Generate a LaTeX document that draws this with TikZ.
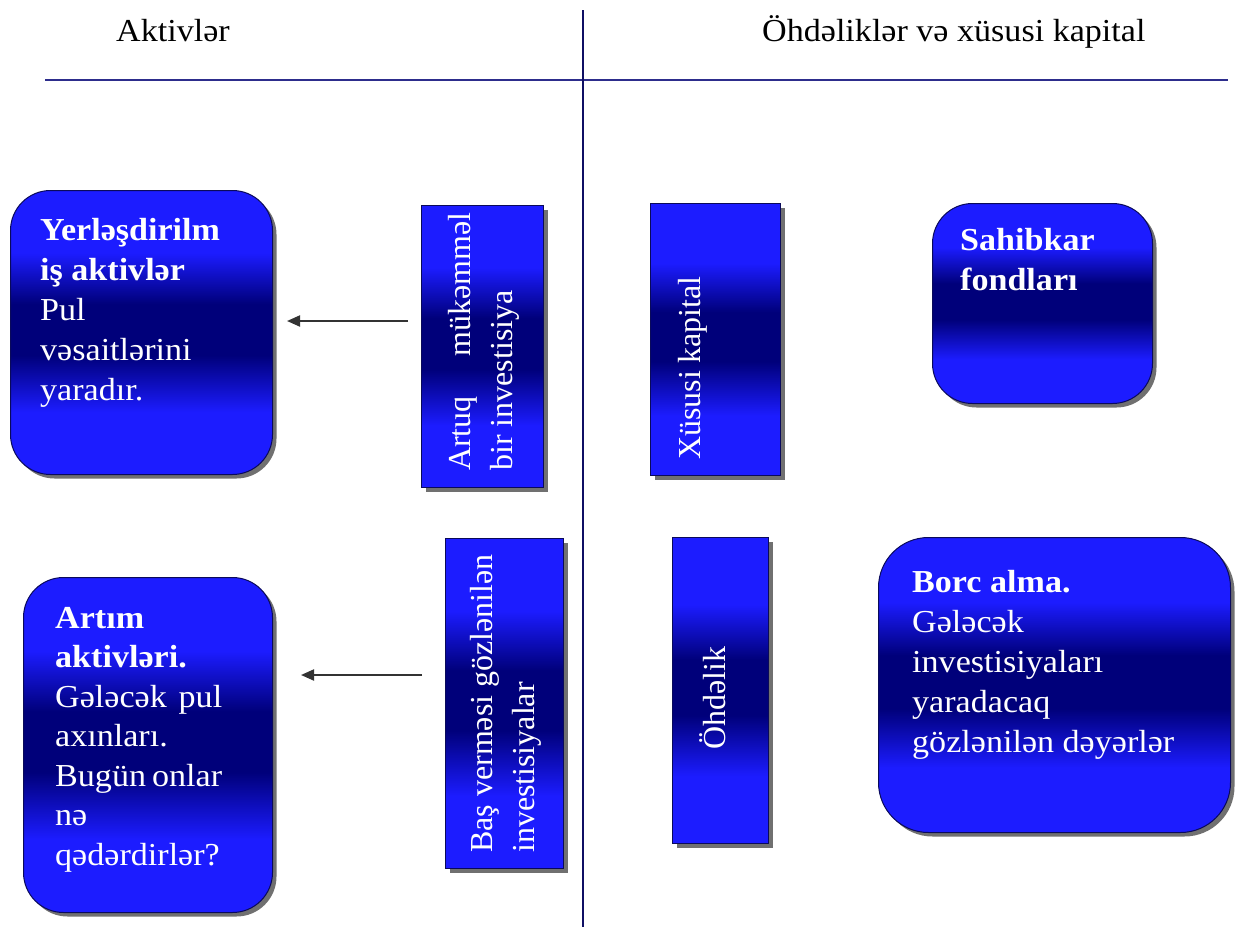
\documentclass[tikz,border=0pt]{standalone}
\usepackage{fontspec}
\setmainfont{Liberation Serif}[FakeStretch=1.065]
\newfontfamily\uprightfont{Liberation Serif}
\usetikzlibrary{shadows,arrows.meta}

\definecolor{bandlight}{RGB}{28,28,255}
\definecolor{banddark}{RGB}{0,0,122}
\definecolor{rulenavy}{RGB}{45,45,140}
\definecolor{axisnavy}{RGB}{15,15,100}
\definecolor{edgenavy}{RGB}{10,10,90}

% bright blue at top and bottom, dark navy band across the middle
\pgfdeclareverticalshading{blueband}{100bp}{%
  color(0bp)=(bandlight); color(36bp)=(bandlight);
  color(46bp)=(banddark); color(55bp)=(banddark);
  color(64bp)=(bandlight); color(100bp)=(bandlight)}

\tikzset{
  panel/.style={draw=edgenavy, line width=1pt, shade, shading=blueband,
    drop shadow={shadow xshift=4pt, shadow yshift=-4pt, fill=black!75, opacity=0.75},
    inner sep=0pt, anchor=north west},
  roundpanel/.style={panel, rounded corners=40pt},
  txt/.style={text=white, inner sep=0pt, anchor=base west,
    font=\fontsize{32}{40}\selectfont},
  vtxt/.style={txt, rotate=90, font=\uprightfont\fontsize{32}{42}\selectfont},
  heading/.style={text=black, inner sep=0pt, anchor=base west,
    font=\fontsize{32}{40}\selectfont},
  arr/.style={draw=black!80, line width=2pt,
    -{Triangle[length=13pt,width=11pt]}},
}

\begin{document}
\begin{tikzpicture}[x=1pt,y=1pt]
\useasboundingbox (0,0) rectangle (1235,-927);

% column headings and dividing rules
\node[heading] (hl) at (116,-41) {Aktivlər};
\node[heading] (hr) at (762,-41) {Öhdəliklər və xüsusi kapital};
\draw[rulenavy, line width=2.5pt] (45,-80) -- (1228,-80);
\draw[axisnavy, line width=2.5pt] (583,-10) -- (583,-927);

% boxes
\node[roundpanel, minimum width=262pt, minimum height=284pt] (a1) at (10,-190) {};
\node[panel, minimum width=122pt, minimum height=282pt] (v1) at (421,-205) {};
\node[panel, minimum width=130pt, minimum height=272pt] (v2) at (650,-203) {};
\node[roundpanel, minimum width=220pt, minimum height=200pt] (r1) at (932,-203) {};
\node[roundpanel, minimum width=249pt, minimum height=335pt] (a2) at (23,-577) {};
\node[panel, minimum width=118pt, minimum height=330pt] (v3) at (445,-538) {};
\node[panel, minimum width=96pt, minimum height=306pt] (v4) at (672,-537) {};
\node[roundpanel, rounded corners=50pt, minimum width=352pt, minimum height=295pt] (r2) at (878,-537) {};

% box texts
\node[txt] (a1t) at (40,-240) {\vtop{%
  \hbox{\bfseries Yerləşdirilm}\hbox{\bfseries iş aktivlər}%
  \hbox{Pul}\hbox{vəsaitlərini}\hbox{yaradır.}}};
\node[txt] (r1t) at (960,-250) {\vtop{%
  \hbox{\bfseries Sahibkar}\hbox{\bfseries fondları}}};
\node[txt] (a2t) at (55,-628) {\vtop{\baselineskip=39.5pt
  \hbox{\bfseries Artım}\hbox{\bfseries aktivləri.}%
  \hbox to 167pt{Gələcək\hfill pul}\hbox{axınları.}%
  \hbox to 167pt{Bugün\hfill onlar}\hbox{nə}\hbox{qədərdirlər?}}};
\node[txt] (r2t) at (912,-592) {\vtop{%
  \hbox{\bfseries Borc alma.}\hbox{Gələcək}\hbox{investisiyaları}%
  \hbox{yaradacaq}\hbox{gözlənilən dəyərlər}}};

% upright texts in the narrow boxes
\node[vtxt] (v1t) at (470,-471) {\vtop{%
  \hbox to 258pt{Artuq\hfill mükəmməl}\hbox{bir investisiya}}};
\node[vtxt] (v2t) at (700,-460) {\hbox to 183pt{Xüsusi\hfill kapital}};
\node[vtxt] (v3t) at (492,-853) {\vtop{%
  \hbox{Baş verməsi gözlənilən}\hbox{investisiyalar}}};
\node[vtxt] (v4t) at (725,-750) {Öhdəlik};

% arrows
\coordinate (ya) at (0,-321);
\coordinate (yb) at (0,-675);
\draw[arr, shorten <=13pt, shorten >=14pt] (v1.west |- ya) -- (a1.east |- ya);
\draw[arr, shorten <=23pt, shorten >=28pt] (v3.west |- yb) -- (a2.east |- yb);
\end{tikzpicture}
\end{document}
